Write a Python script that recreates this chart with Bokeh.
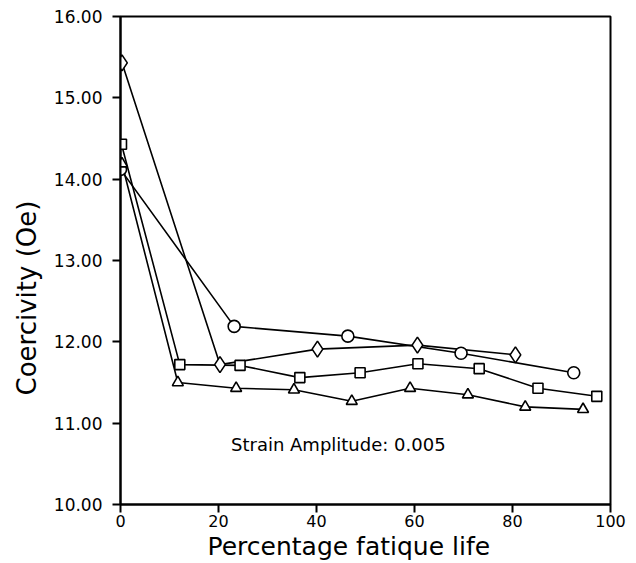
from bokeh.plotting import figure
from bokeh.models import FixedTicker, PrintfTickFormatter, Range1d, Title
from bokeh.core.properties import value
from bokeh.embed import file_html
from bokeh.resources import INLINE

# Data
circle_x = [0.0, 23.2, 46.4, 69.5, 92.5]
circle_y = [14.12, 12.19, 12.07, 11.86, 11.62]

diamond_x = [0.3, 20.3, 40.2, 60.6, 80.6]
diamond_y = [15.43, 11.72, 11.91, 11.96, 11.84]

square_x = [0.2, 12.1, 24.4, 36.6, 48.9, 60.7, 73.2, 85.2, 97.2]
square_y = [14.43, 11.72, 11.71, 11.56, 11.62, 11.73, 11.67, 11.43, 11.33]

triangle_x = [0.3, 11.7, 23.6, 35.4, 47.2, 59.1, 70.9, 82.6, 94.4]
triangle_y = [14.19, 11.50, 11.43, 11.41, 11.27, 11.43, 11.35, 11.20, 11.17]

x_ticks = [0, 20, 40, 60, 80, 100]
y_ticks = [10, 11, 12, 13, 14, 15, 16]
x_title = "Percentage fatique life"
y_title = "Coercivity (Oe)"
annotation = "Strain Amplitude: 0.005"

FONT = "DejaVu Sans"

p = figure(frame_width=490, frame_height=488, output_backend="svg",
           toolbar_location=None, x_range=Range1d(0, 100), y_range=Range1d(10, 16),
           min_border_left=120, min_border_top=16, min_border_right=26,
           min_border_bottom=58)
p.background_fill_color = "white"
p.border_fill_color = "white"
p.outline_line_color = "black"
p.outline_line_width = 2
p.xgrid.visible = False
p.ygrid.visible = False

for ax in (p.xaxis[0], p.yaxis[0]):
    ax.axis_line_color = "black"
    ax.axis_line_width = 2
    ax.major_tick_line_color = "black"
    ax.major_tick_line_width = 2
    ax.major_tick_in = 0
    ax.major_tick_out = 8
    ax.minor_tick_line_color = None
    ax.major_label_text_font = FONT
    ax.major_label_text_color = "black"

p.xaxis.major_label_text_font_size = "16px"
p.yaxis.major_label_text_font_size = "17px"
p.xaxis.ticker = FixedTicker(ticks=x_ticks)
p.yaxis.ticker = FixedTicker(ticks=y_ticks)
p.yaxis.formatter = PrintfTickFormatter(format="%.2f")
p.xaxis.major_label_standoff = 2
p.yaxis.major_label_standoff = 10

lw = 1.6
for xs, ys in ((circle_x, circle_y), (diamond_x, diamond_y),
               (square_x, square_y), (triangle_x, triangle_y)):
    p.line(xs, ys, line_color="black", line_width=lw)

p.scatter(circle_x, circle_y, marker="circle", size=12, fill_color="white",
          line_color="black", line_width=lw)
p.scatter(diamond_x, diamond_y, marker="diamond", size=16, fill_color="white",
          line_color="black", line_width=lw)
p.scatter(square_x, square_y, marker="square", size=10, fill_color="white",
          line_color="black", line_width=lw)
p.scatter(triangle_x, triangle_y, marker="triangle", size=11, fill_color="white",
          line_color="black", line_width=lw)

p.text(x=[22.55], y=[10.74], text=[annotation], text_font=value(FONT),
       text_font_size="18px", text_baseline="middle", text_align="left",
       text_color="black")

# axis titles, offset as in the reference
p.add_layout(Title(text=x_title, align="left", offset=87, standoff=0,
                   text_font=FONT, text_font_size="25px", text_font_style="normal",
                   text_color="black"), "below")
p.add_layout(Title(text=y_title, align="left", offset=109, standoff=17,
                   text_font=FONT, text_font_size="26px", text_font_style="normal",
                   text_color="black"), "left")

open("out.html", "w").write(file_html(p, INLINE))
